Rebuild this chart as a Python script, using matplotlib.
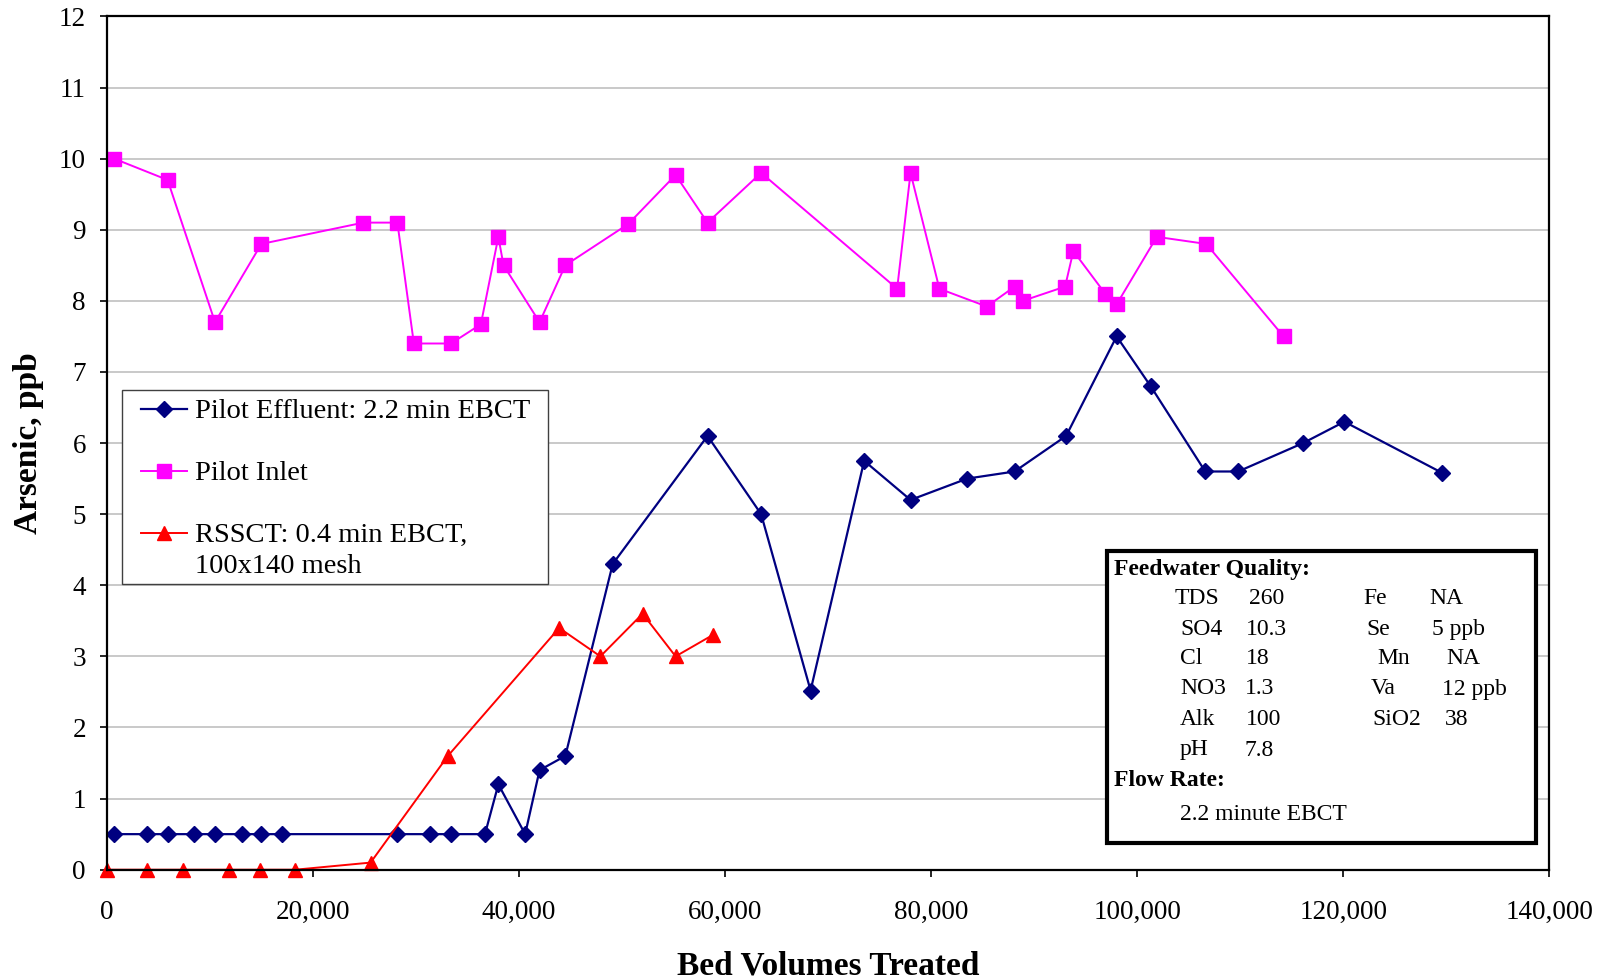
import matplotlib
matplotlib.use("Agg")
import matplotlib.pyplot as plt
from matplotlib.ticker import FuncFormatter, MultipleLocator
from matplotlib.patches import Rectangle

plt.rcParams["font.family"] = ["Liberation Serif", "DejaVu Serif"]

# Pilot Inlet (magenta squares)
inlet_bv = [700, 5900, 10500, 15000, 24900, 28200, 29800, 33400, 36300, 38000,
            38500, 42000, 44500, 50600, 55200, 58300, 63500, 76700, 78000, 80800,
            85400, 88100, 88900, 93000, 93800, 96900, 98000, 101900, 106700, 114200]
inlet_as = [10.0, 9.7, 7.7, 8.8, 9.1, 9.1, 7.4, 7.4, 7.67, 8.9,
            8.5, 7.7, 8.5, 9.08, 9.77, 9.1, 9.8, 8.17, 9.8, 8.17,
            7.92, 8.2, 8.0, 8.2, 8.7, 8.1, 7.95, 8.9, 8.8, 7.5]

# Pilot Effluent (navy diamonds)
eff_bv = [700, 3900, 5900, 8500, 10500, 13100, 15000, 17000, 28200, 31400,
          33400, 36700, 38000, 40600, 42000, 44500, 49100, 58300, 63500, 68300,
          73500, 78000, 83500, 88100, 93100, 98000, 101300, 106600, 109800, 116100,
          120100, 129600]
eff_as = [0.5, 0.5, 0.5, 0.5, 0.5, 0.5, 0.5, 0.5, 0.5, 0.5,
          0.5, 0.5, 1.2, 0.5, 1.4, 1.6, 4.3, 6.1, 5.0, 2.52,
          5.75, 5.2, 5.5, 5.6, 6.1, 7.5, 6.8, 5.6, 5.6, 6.0,
          6.3, 5.58]

# RSSCT (red triangles)
rssct_bv = [0, 3900, 7400, 11900, 14900, 18300, 25600, 33100, 43900, 47900,
            52000, 55200, 58800]
rssct_as = [0, 0, 0, 0, 0, 0, 0.1, 1.6, 3.4, 3.0,
            3.6, 3.0, 3.3]

# Feedwater quality table
feed_left_names = ["TDS", "SO4", "Cl", "NO3", "Alk", "pH"]
feed_left_vals = ["260", "10.3", "18", "1.3", "100", "7.8"]
feed_right_names = ["Fe", "Se", "Mn", "Va", "SiO2"]
feed_right_vals = ["NA", "5 ppb", "NA", "12 ppb", "38"]
flow_text = "2.2 minute EBCT"

W, H = 1610, 980
fig = plt.figure(figsize=(W / 100, H / 100), dpi=100)
ax = fig.add_axes([106.8 / W, 1 - 869.7 / H, (1549.4 - 106.8) / W, (869.7 - 16.4) / H])

ax.plot(eff_bv, eff_as, color="#000080", lw=1.6, marker="D", ms=8,
        label="Pilot Effluent: 2.2 min EBCT")
ax.plot(inlet_bv, inlet_as, color="#FF00FF", lw=1.4, marker="s", ms=9.5,
        label="Pilot Inlet")
ax.plot(rssct_bv, rssct_as, color="#FF0000", lw=1.4, marker="^", ms=10,
        label="RSSCT: 0.4 min EBCT,\n100x140 mesh", clip_on=False)

ax.set_xlim(0, 140000)
ax.set_ylim(0, 12)
ax.xaxis.set_major_locator(MultipleLocator(20000))
ax.yaxis.set_major_locator(MultipleLocator(1))
ax.xaxis.set_major_formatter(FuncFormatter(lambda v, p: f"{v:,.0f}"))
ax.grid(axis="y", color="#c0c0c0", lw=1.2)
ax.set_axisbelow(True)
for s in ax.spines.values():
    s.set_linewidth(1.6)
    s.set_color("black")
ax.tick_params(axis="y", direction="out", length=5, width=1.2, labelsize=19.5, pad=10)
ax.tick_params(axis="x", direction="out", length=5, width=1.2, labelsize=19.5, pad=17)

ax.set_xlabel("Bed Volumes Treated", fontsize=24, fontweight="bold", labelpad=18)
ax.set_ylabel("Arsenic, ppb", fontsize=24, fontweight="bold", labelpad=11)

# legend frame drawn separately so the inner padding can differ per side
leg_frame = Rectangle((121.7 / W, 1 - 584 / H), (548 - 121.7) / W, (584 - 390) / H,
                      transform=fig.transFigure, facecolor="white",
                      edgecolor="#404040", lw=1.0, zorder=4.9, clip_on=False)
ax.add_patch(leg_frame)

leg = ax.legend(loc="upper left", bbox_to_anchor=(132 / W, 1 - 390 / H),
                bbox_transform=fig.transFigure, borderaxespad=0,
                fontsize=20.5, frameon=False, handlelength=1.6,
                handletextpad=0.3, labelspacing=1.3, borderpad=0.32)
for t in leg.get_texts():
    t.set_linespacing(1.3)
# keep the handle level with the first line of a two-line label
for col in leg._legend_handle_box.get_children():
    for item in col.get_children():
        item.align = "top"

# Feedwater quality box
box = Rectangle((1107 / W, 1 - 843 / H), (1536 - 1107) / W, (843 - 551) / H,
                transform=fig.transFigure, fill=True, facecolor="white",
                edgecolor="black", lw=3, zorder=5)
fig.patches.append(box)


def ftext(x, y, s, **kw):
    fig.text(x / W, 1 - y / H, s, va="center", ha="left", fontsize=17, zorder=6, **kw)


row_y = [599, 629, 659, 689, 719, 750]
left_name_x = [1175, 1180, 1180, 1180, 1180, 1180]
left_val_x = [1249, 1246, 1246, 1245, 1246, 1245]
right_name_x = [1363, 1366, 1377, 1371, 1372]
right_val_x = [1429, 1432, 1446, 1442, 1445]

ftext(1114, 569, "Feedwater Quality:", fontweight="bold")
for i, name in enumerate(feed_left_names):
    ftext(left_name_x[i], row_y[i], name)
    ftext(left_val_x[i], row_y[i], feed_left_vals[i])
for i, name in enumerate(feed_right_names):
    ftext(right_name_x[i], row_y[i], name)
    ftext(right_val_x[i], row_y[i], feed_right_vals[i])
ftext(1114, 780, "Flow Rate:", fontweight="bold")
ftext(1180, 814, flow_text)

fig.savefig("out.png", dpi=100)
